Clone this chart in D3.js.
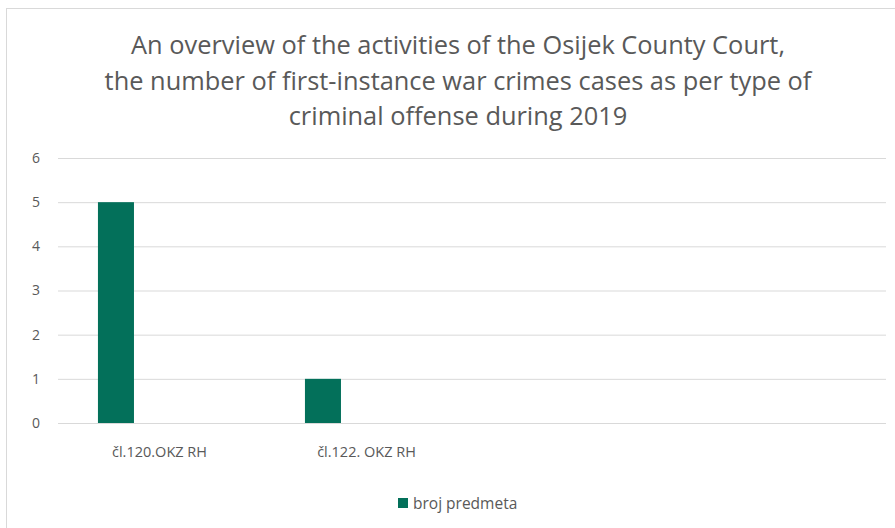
<!DOCTYPE html>
<html><head><meta charset="utf-8">
<script src="https://cdn.jsdelivr.net/npm/d3@7"></script>
<style>body{margin:0;background:#fff}svg{display:block}text{font-family:"Open Sans",Lato,sans-serif;fill:#595959;font-variant-ligatures:none}</style>
</head><body><svg id="c" width="895" height="528"></svg>
<script>
const categories = ["čl.120.OKZ RH", "čl.122. OKZ RH", "", ""];
const values = [5, 1, null, null];
const seriesName = "broj predmeta";
const yTicks = [0, 1, 2, 3, 4, 5, 6];
const titleLines = ["An overview of the activities of the Osijek County Court,", "the number of first-instance war crimes cases as per type of", "criminal offense during 2019"];

const svg = d3.select("#c");
svg.append("rect").attr("x", 6.5).attr("y", 8.5).attr("width", 900).attr("height", 530)
  .attr("fill", "#fff").attr("stroke", "#d9d9d9").attr("stroke-width", 1);

const m = {left: 58, right: 886, top: 158, bottom: 423};
const x = d3.scaleBand().domain(d3.range(categories.length)).range([m.left, m.right]).padding(0);
const y = d3.scaleLinear().domain([0, 6]).range([m.bottom, m.top]);

// title
svg.append("g").selectAll("text").data(titleLines).join("text")
  .attr("x", 458).attr("y", (d, i) => 54 + i * 35.5)
  .attr("text-anchor", "middle").style("font-size", "25.4px").text(d => d);

// grid
const yAxis = d3.axisLeft(y).tickValues(yTicks).tickFormat(d3.format("d")).tickSize(-(m.right - m.left)).tickPadding(18);
const gy = svg.append("g").attr("transform", `translate(${m.left},0)`).call(yAxis);
gy.select(".domain").remove();
gy.selectAll(".tick line").attr("stroke", "#d9d9d9").attr("stroke-width", 1);
gy.selectAll(".tick text").style("font-size", "14px").attr("fill", "#595959");

// bars
const bw = x.bandwidth();
svg.append("g").selectAll("rect").data(values.map((v, i) => ({v, i})).filter(d => d.v != null)).join("rect")
  .attr("x", d => x(d.i) + bw * 0.193)
  .attr("width", bw * 0.174)
  .attr("y", d => y(d.v)).attr("height", d => y(0) - y(d.v))
  .attr("fill", "#03705a");

// x labels
const xAxis = d3.axisBottom(x).tickFormat(i => categories[i]).tickSize(0).tickPadding(24);
const gx = svg.append("g").attr("transform", `translate(-2,${m.bottom})`).call(xAxis);
gx.select(".domain").remove();
gx.selectAll(".tick text").style("font-size", "14.5px").attr("fill", "#595959");

// legend
const lg = svg.append("g").attr("transform", "translate(398,498)");
lg.append("rect").attr("width", 10).attr("height", 10).attr("fill", "#03705a");
lg.append("text").attr("x", 15).attr("y", 11).style("font-size", "15.5px").text(seriesName);
</script></body></html>
